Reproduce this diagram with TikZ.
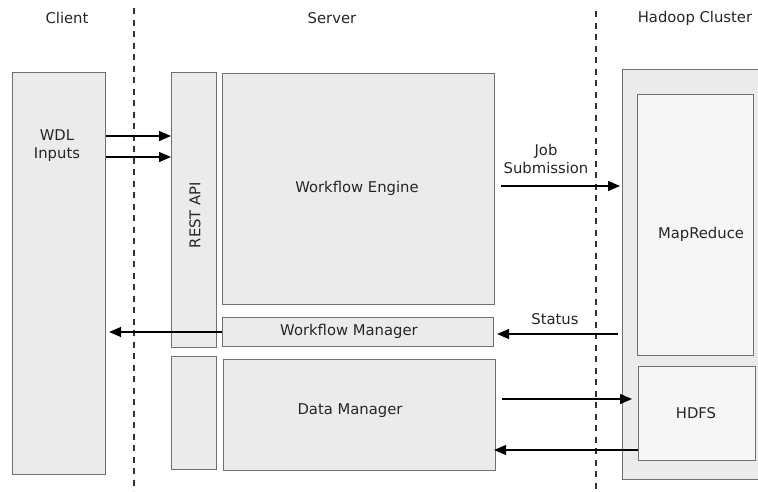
\documentclass[tikz,border=0pt]{standalone}
\usepackage{fontspec}
\setmainfont{DejaVu Sans}
\usetikzlibrary{arrows.meta}
\definecolor{boxfill}{HTML}{EBEBEB}
\definecolor{innerfill}{HTML}{F6F6F6}
\definecolor{boxline}{HTML}{707070}
\begin{document}
\begin{tikzpicture}[x=1pt,y=-1pt,
  every node/.style={font=\fontsize{14.8}{18}\selectfont, text=black!85, inner sep=0pt},
  block/.style={draw=boxline, fill=boxfill, line width=1.1pt, anchor=north west, minimum width=#1},
  inner/.style={draw=boxline, fill=innerfill, line width=1.1pt, anchor=north west},
  arr/.style={-{Triangle[length=12pt,width=10pt]}, line width=1.3pt, black},
  divider/.style={dash pattern=on 6pt off 5.5pt, line width=1.2pt, black!80}]
\useasboundingbox (0,0) rectangle (758,491);
\clip (0,0) rectangle (758,491);
\fill[white] (0,0) rectangle (758,491);

% column headings
\node (hclient) at (67,18) {Client};
\node (hserver) at (332,18) {Server};
\node (hhadoop) at (695,18) {Hadoop Cluster};

% tier dividers
\coordinate (d1t) at (134,8);  \coordinate (d1b) at (134,491);
\coordinate (d2t) at (596,11); \coordinate (d2b) at (596,491);
\draw[divider] (d1t) -- (d1b);
\draw[divider] (d2t) -- (d2b);

% client
\node[block=93pt, minimum height=402pt] (client) at (12,72) {};
\node[align=center] (wdl) at (57,146) {WDL\\Inputs};

% server
\node[block=45pt, minimum height=275pt] (rest) at (171,72) {};
\node[rotate=90] (restlbl) at (195,215) {REST API};
\node[block=45pt, minimum height=113pt] (restlow) at (171,356) {};
\node[block=272pt, minimum height=231pt] (engine) at (222,73) {};
\node (enginelbl) at (357,188) {Workflow Engine};
\node[block=271pt, minimum height=29pt] (wfm) at (222,317) {};
\node (wfmlbl) at (349,331) {Workflow Manager};
\node[block=272pt, minimum height=111pt] (dm) at (223,359) {};
\node (dmlbl) at (350,411) {Data Manager};

% hadoop cluster
\node[block=160pt, minimum height=410pt] (hadoop) at (622,69) {};
\node[inner, minimum width=116pt, minimum height=261pt] (mr) at (637,94) {};
\node (mrlbl) at (701,234) {MapReduce};
\node[inner, minimum width=117pt, minimum height=94pt] (hdfs) at (638,366) {};
\node (hdfslbl) at (696,413) {HDFS};

% connectors
\coordinate (y1) at (0,136);
\coordinate (y2) at (0,157);
\draw[arr] (client.east |- y1) -- (rest.west |- y1);
\draw[arr] (client.east |- y2) -- (rest.west |- y2);

\coordinate (yjob) at (0,186);
\draw[arr] ([xshift=6pt]engine.east |- yjob) -- ([xshift=-2pt]hadoop.west |- yjob);
\node[align=center] (joblbl) at (546,159) {Job\\Submission};

\coordinate (ystat) at (0,334);
\draw[arr] ([xshift=-4pt]hadoop.west |- ystat) -- ([xshift=3pt]wfm.east |- ystat);
\node (statlbl) at (555,319) {Status};

\coordinate (ywfm) at (0,332);
\draw[arr] (wfm.west |- ywfm) -- ([xshift=3pt]client.east |- ywfm);

\coordinate (yput) at (0,399);
\draw[arr] ([xshift=6pt]dm.east |- yput) -- ([xshift=-6pt]hdfs.west |- yput);
\coordinate (yget) at (0,450);
\draw[arr] (hdfs.west |- yget) -- ([xshift=-2pt]dm.east |- yget);
\end{tikzpicture}
\end{document}
